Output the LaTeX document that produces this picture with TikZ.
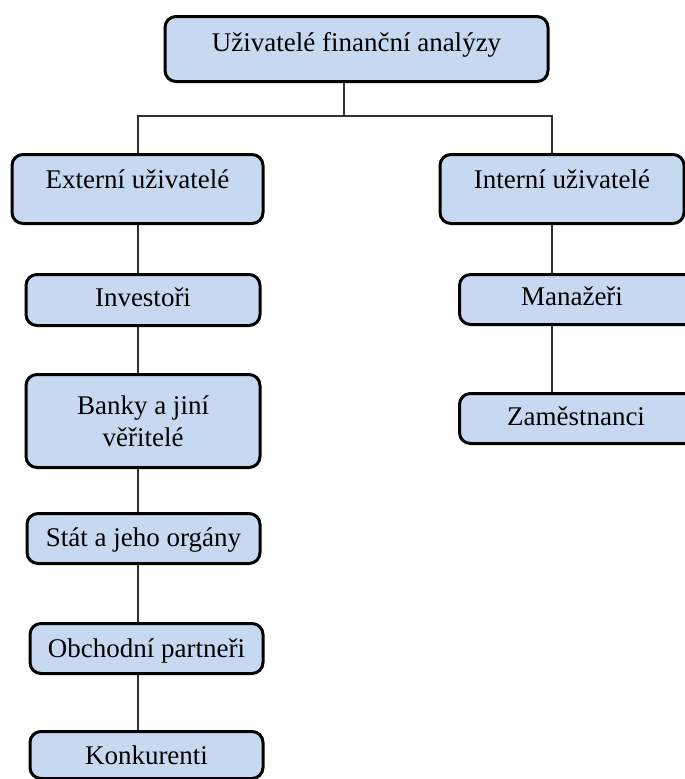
\documentclass[tikz,border=0pt]{standalone}
\usepackage{fontspec}
\setmainfont{Liberation Serif}
\definecolor{boxfill}{HTML}{C6D9F1}
\definecolor{linegray}{HTML}{303030}
\begin{document}
\begin{tikzpicture}[x=1pt,y=-1pt,
  box/.style={draw=black, line width=3pt, fill=boxfill, rounded corners=11pt,
    inner ysep=0pt, inner xsep=4pt, font=\fontsize{27}{32}\selectfont, align=center},
  boxtext/.style={inner sep=0pt, anchor=base, font=\fontsize{27}{32}\selectfont},
  conn/.style={draw=linegray, line width=1.3pt}]
\useasboundingbox (0,0) rectangle (685,779);

% boxes
\node[box, anchor=north, minimum width=383pt, text height=35pt, text depth=30pt] (top) at (356.5,15) {Uživatelé finanční analýzy};
\node[box, anchor=north, minimum width=251pt, text height=34pt, text depth=35pt] (ext) at (137.5,153) {Externí uživatelé};
\node[box, anchor=north, minimum width=244pt, text height=34pt, text depth=35pt] (int) at (562,153) {Interní uživatelé};

\node[box, anchor=north, minimum width=234pt, text height=32pt, text depth=19pt] (inv) at (143,273) {Investoři};
\node[box, anchor=north, minimum width=234pt, minimum height=93pt] (ban) at (143,373) {Banky a jiní\\věřitelé};
\node[box, anchor=north, minimum width=233pt, text height=33pt, text depth=17pt] (stat) at (143.5,512) {Stát a jeho orgány};
\node[box, anchor=north, minimum width=233pt, text height=34pt, text depth=16pt] (obch) at (146.5,622) {Obchodní partneři};
\node[box, anchor=north, minimum width=233pt, text height=33pt, text depth=14pt] (konk) at (146.5,730) {Konkurenti};

\node[box, anchor=north west, minimum width=262pt, text height=32pt, text depth=18pt] (man) at (458,273) {};
\node[boxtext] (manT) at (572,305) {Manažeři};
\node[box, anchor=north west, minimum width=262pt, text height=33pt, text depth=17pt] (zam) at (458,392) {};
\node[boxtext] (zamT) at (576,425) {Zaměstnanci};

% connector guides
\coordinate (lx) at (138,0);
\coordinate (rx) at (552,0);
\coordinate (tx) at (344,0);
\coordinate (bus) at (0,116);

% connectors
\draw[conn] (top.south -| tx) -- (tx |- bus);
\draw[conn] (ext.north -| lx) |- (rx |- bus) -- (int.north -| rx);
\draw[conn] (ext.south -| lx) -- (inv.north -| lx);
\draw[conn] (inv.south -| lx) -- (ban.north -| lx);
\draw[conn] (ban.south -| lx) -- (stat.north -| lx);
\draw[conn] (stat.south -| lx) -- (obch.north -| lx);
\draw[conn] (obch.south -| lx) -- (konk.north -| lx);
\draw[conn] (int.south -| rx) -- (man.north -| rx);
\draw[conn] (man.south -| rx) -- (zam.north -| rx);
\end{tikzpicture}
\end{document}
